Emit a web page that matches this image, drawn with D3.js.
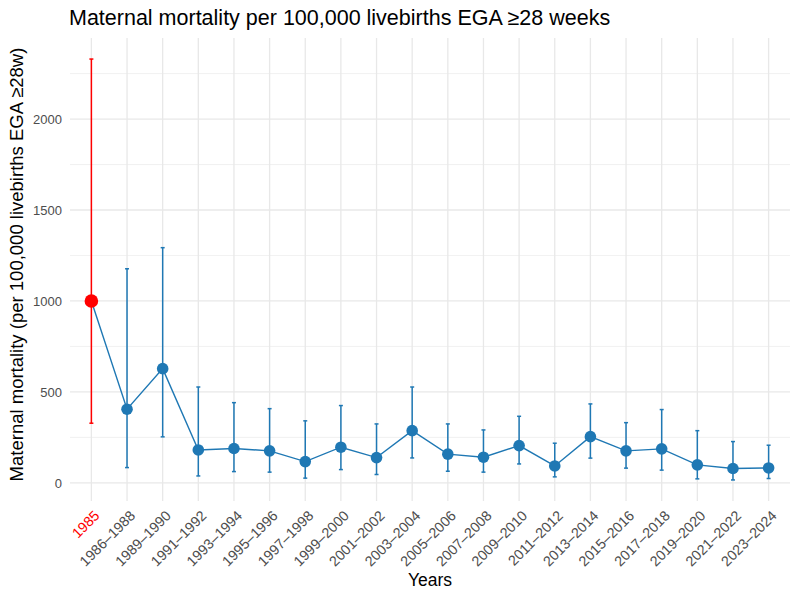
<!DOCTYPE html>
<html>
<head>
<meta charset="utf-8">
<script src="https://cdn.jsdelivr.net/npm/d3@7"></script>
<style>
  body { margin: 0; background: #fff; }
  text { font-family: "Liberation Sans", Arial, sans-serif; }
</style>
</head>
<body>
<div id="chart"></div>
<script>
// data
var periods = ["1985", "1986–1988", "1989–1990", "1991–1992", "1993–1994", "1995–1996",
  "1997–1998", "1999–2000", "2001–2002", "2003–2004", "2005–2006", "2007–2008",
  "2009–2010", "2011–2012", "2013–2014", "2015–2016", "2017–2018", "2019–2020",
  "2021–2022", "2023–2024"];
var rate  = [1000, 405, 628, 181, 189, 176, 117, 196, 139, 287, 158, 141, 205, 93, 254, 176, 187, 99, 79, 82];
var lower = [328, 84, 253, 38, 62, 59, 26, 73, 46, 137, 64, 59, 104, 33, 136, 81, 70, 22, 16, 24];
var upper = [2330, 1177, 1293, 527, 441, 408, 341, 425, 324, 527, 324, 291, 366, 218, 434, 331, 403, 287, 227, 207];
var yTicks = [0, 500, 1000, 1500, 2000];
var yMinor = [250, 750, 1250, 1750, 2250];

var W = 799, H = 596;
var pLeft = 70, pRight = 790, pTop = 38, pBottom = 501;
var blue = "#1f78b4", red = "#ff0000";

var svg = d3.select("#chart").append("svg")
  .attr("width", W)
  .attr("height", H);

var x = d3.scalePoint()
  .domain(periods)
  .range([pLeft, pRight])
  .padding(0.6);

var lo = d3.min(lower), hi = d3.max(upper), pad = (hi - lo) * 0.05;
var y = d3.scaleLinear()
  .domain([lo - pad, hi + pad])
  .range([pBottom, pTop]);

/*GRID*/
var grid = svg.append("g");
grid.selectAll(".minor").data(yMinor).enter().append("line")
  .attr("x1", pLeft).attr("x2", pRight)
  .attr("y1", function(d){ return y(d); }).attr("y2", function(d){ return y(d); })
  .attr("stroke", "#ebebeb").attr("stroke-width", 0.7);
grid.selectAll(".major").data(yTicks).enter().append("line")
  .attr("x1", pLeft).attr("x2", pRight)
  .attr("y1", function(d){ return y(d); }).attr("y2", function(d){ return y(d); })
  .attr("stroke", "#e8e8e8").attr("stroke-width", 1.3);
grid.selectAll(".vert").data(periods).enter().append("line")
  .attr("x1", function(d){ return x(d); }).attr("x2", function(d){ return x(d); })
  .attr("y1", pTop).attr("y2", pBottom)
  .attr("stroke", "#e8e8e8").attr("stroke-width", 1.3);

/*AXES*/
var yAxis = svg.append("g")
  .attr("transform", "translate(" + (pLeft - 2) + ",0)")
  .call(d3.axisLeft(y).tickValues(yTicks).tickFormat(d3.format("d")).tickSize(0).tickPadding(6));
yAxis.select(".domain").remove();
yAxis.selectAll("text").attr("font-size", 13).attr("fill", "#4d4d4d");

var xAxis = svg.append("g")
  .attr("transform", "translate(0," + (pBottom + 8) + ")")
  .call(d3.axisBottom(x).tickSize(0).tickPadding(0));
xAxis.select(".domain").remove();
xAxis.selectAll("text")
  .attr("font-size", 14.3)
  .attr("fill", function(d){ return d == "1985" ? red : "#4d4d4d"; })
  .attr("text-anchor", "end")
  .attr("dy", "0.75em")
  .attr("transform", "translate(1,0) rotate(-45)");

/*ERROR BARS*/
var idx = d3.range(periods.length);
var colorOf = function(i){ return i === 0 ? red : blue; };
var bars = svg.append("g");
bars.selectAll(".eb").data(idx).enter().append("line")
  .attr("x1", function(i){ return x(periods[i]); }).attr("x2", function(i){ return x(periods[i]); })
  .attr("y1", function(i){ return y(lower[i]); }).attr("y2", function(i){ return y(upper[i]); })
  .attr("stroke", colorOf).attr("stroke-width", 1.5);
[lower, upper].forEach(function(arr){
  bars.selectAll(null).data(idx).enter().append("line")
    .attr("x1", function(i){ return x(periods[i]) - 2; }).attr("x2", function(i){ return x(periods[i]) + 2; })
    .attr("y1", function(i){ return y(arr[i]); }).attr("y2", function(i){ return y(arr[i]); })
    .attr("stroke", colorOf).attr("stroke-width", 1.5);
});

/*LINE + POINTS*/
var line = d3.line()
  .x(function(i){ return x(periods[i]); })
  .y(function(i){ return y(rate[i]); });
svg.append("path")
  .datum(idx)
  .attr("d", line)
  .attr("fill", "none")
  .attr("stroke", blue)
  .attr("stroke-width", 1.4);

svg.selectAll(".pt").data(idx).enter().append("circle")
  .attr("cx", function(i){ return x(periods[i]); })
  .attr("cy", function(i){ return y(rate[i]); })
  .attr("r", function(i){ return i === 0 ? 6.8 : 5.8; })
  .attr("fill", colorOf);

/*TITLES*/
svg.append("text")
  .attr("x", pLeft - 1).attr("y", 25)
  .attr("font-size", 21.5)
  .attr("fill", "#000")
  .text("Maternal mortality per 100,000 livebirths EGA ≥28 weeks");

svg.append("text")
  .attr("x", (pLeft + pRight) / 2).attr("y", 586)
  .attr("text-anchor", "middle")
  .attr("font-size", 17.5)
  .text("Years");

svg.append("text")
  .attr("transform", "translate(23," + ((pTop + pBottom) / 2 - 5) + ") rotate(-90)")
  .attr("text-anchor", "middle")
  .attr("font-size", 18.5)
  .text("Maternal mortality (per 100,000 livebirths EGA ≥28w)");
</script>
</body>
</html>
